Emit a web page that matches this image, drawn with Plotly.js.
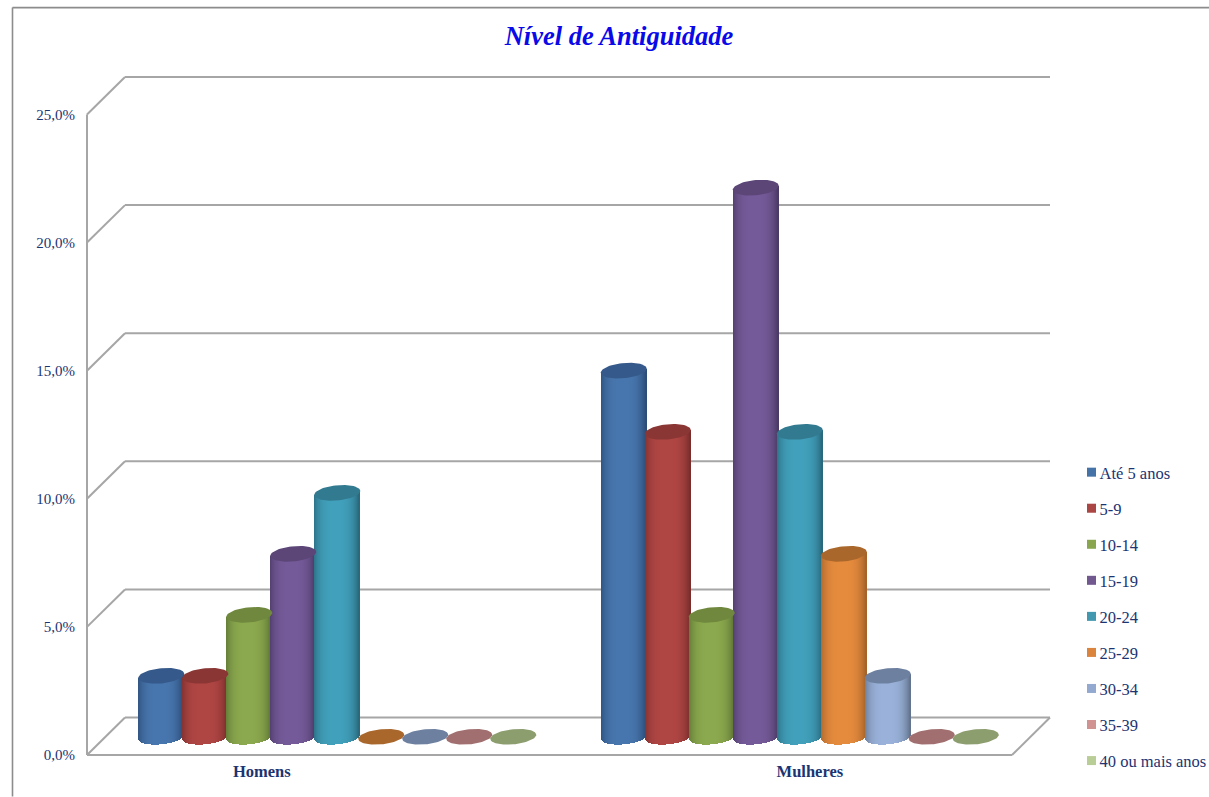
<!DOCTYPE html>
<html>
<head>
<meta charset="utf-8">
<title>Nível de Antiguidade</title>
<script src="https://cdn.plot.ly/plotly-3.0.1.min.js"></script>
<style>
  html, body { margin: 0; padding: 0; background: #ffffff; overflow: hidden; }
  #chart { width: 1209px; height: 797px; }
</style>
</head>
<body>
<div id="chart"></div>
<script>
// Share of staff per seniority band, split by gender (percent).
const groups = ['Homens', 'Mulheres'];
const bands = ['Até 5 anos', '5-9', '10-14', '15-19', '20-24', '25-29', '30-34', '35-39', '40 ou mais anos'];
const homens = [2.38, 2.38, 4.76, 7.14, 9.52, 0, 0, 0, 0];
const mulheres = [14.29, 11.90, 4.76, 21.43, 11.90, 7.14, 2.38, 0, 0];
const yTicks = [0, 5, 10, 15, 20, 25];
const yTickText = ['0,0%', '5,0%', '10,0%', '15,0%', '20,0%', '25,0%'];

// Cylinder shading per band: side edge, side middle, top cap.
const edgeColors = ['#2c4d78', '#7a2e2c', '#5d7433', '#4b3a66', '#29697d', '#a5632a', '#64758f', '#8f6161', '#7b8c5f'];
const midColors = ['#4776ae', '#b04644', '#8ba94e', '#755a99', '#41a0bb', '#e58b3d', '#9ab2da', '#d09a99', '#bad09a'];
const capColors = ['#35598a', '#8a3634', '#6f883e', '#5b4677', '#327a90', '#a9672c', '#6d80a0', '#a16f6f', '#8c9d6e'];
const legendColors = ['#4573a7', '#aa4643', '#89a54e', '#71588f', '#4198af', '#db843d', '#93a9cf', '#d19392', '#b9cd96'];
const ink = '#1b3472';
const gridColor = '#a6a6a6';

// Scale of the oblique projection: pixels per axis unit and depth of the box.
const PX_X = 462.5, PX_Y = 25.66, DEPTH_X_PX = 38, DEPTH_Y_PX = 37.5, PAD_PX = 2;
const dx = DEPTH_X_PX / PX_X, dy = DEPTH_Y_PX / PX_Y;
const SLOT_PX = 44, HALF_W_PX = 23, CAP_B_PX = 7.6, CAP_TILT_PX = 2;

// Plot frame in pixels; the padding keeps the box lines from being clipped.
const M = { l: 87 - PAD_PX, r: 1209 - 1050 - PAD_PX, t: 76.5 - PAD_PX, b: 797 - 755.5 - PAD_PX };
const plotW = 1209 - M.l - M.r, plotH = 797 - M.t - M.b;
const paperX = px => (px - M.l) / plotW;
const paperY = py => (797 - M.b - py) / plotH;

const hexRgb = h => [1, 3, 5].map(i => parseInt(h.substr(i, 2), 16));
function mix(a, b, t) {
  const A = hexRgb(a), B = hexRgb(b);
  return 'rgb(' + A.map((v, i) => Math.round(v + (B[i] - v) * t)).join(',') + ')';
}

// Centre of the cylinder footprint on the floor, half way into the box.
const centreX = (g, s) => g + 0.5 + dx / 2 + (s - 4) * SLOT_PX / PX_X;
const floorY = (DEPTH_Y_PX / 2 - 0.5) / PX_Y;

const traces = [];

// Each cylinder body is a run of one-pixel bars whose base follows the lower
// rim and whose colour follows the curved surface.
bands.forEach((band, s) => {
  const xs = [], bases = [], heights = [], colors = [];
  [homens, mulheres].forEach((vals, g) => {
    if (vals[s] <= 0) return;
    const cx = centreX(g, s);
    for (let p = -HALF_W_PX + 0.5; p < HALF_W_PX; p += 1) {
      const u = p / HALF_W_PX;
      const lift = CAP_TILT_PX * u;
      const drop = CAP_B_PX * Math.sqrt(1 - u * u);
      const base = floorY + (lift - drop) / PX_Y;
      const top = floorY + vals[s] + lift / PX_Y;
      xs.push(cx + p / PX_X);
      bases.push(base);
      heights.push(top - base);
      const shade = 1 - Math.pow(Math.abs(u + 0.06), 3.2);
      colors.push(mix(edgeColors[s], midColors[s], Math.max(0, shade)));
    }
  });
  traces.push({
    type: 'bar', x: xs, y: heights, base: bases, width: 1 / PX_X, opacity: 1,
    marker: { color: colors, opacity: 1, line: { width: 0 } },
    legendgroup: band, showlegend: false, hoverinfo: 'skip'
  });
});

// Elliptical top caps, flat on the floor for empty bands.
bands.forEach((band, s) => {
  [homens, mulheres].forEach((vals, g) => {
    const cx = centreX(g, s);
    const xs = [], ys = [];
    for (let a = 0; a <= 72; a++) {
      const t = a / 72 * 2 * Math.PI;
      const c = Math.cos(t), n = Math.sin(t);
      xs.push(cx + HALF_W_PX * c / PX_X);
      ys.push(floorY + vals[s] + (CAP_TILT_PX * c + CAP_B_PX * n) / PX_Y);
    }
    traces.push({
      type: 'scatter', mode: 'lines', x: xs, y: ys, fill: 'toself',
      fillcolor: capColors[s], line: { width: 0, color: capColors[s] },
      legendgroup: band, showlegend: false, hoverinfo: 'skip'
    });
  });
});

// Legend keys.
bands.forEach((band, s) => {
  traces.push({
    type: 'scatter', mode: 'markers', x: [null], y: [null], name: band,
    marker: { symbol: 'square', size: 9, color: legendColors[s] },
    legendgroup: band, hoverinfo: 'skip'
  });
});

// Box outline: back wall gridlines with their diagonals, floor and front axis.
const gridLine = (x0, y0, x1, y1) => ({
  type: 'line', xref: 'x', yref: 'y', x0, y0, x1, y1, layer: 'below',
  line: { color: gridColor, width: 2 }
});
const shapes = [];
yTicks.forEach(v => {
  shapes.push(gridLine(0, v, dx, v + dy));
  shapes.push(gridLine(dx, v + dy, 2 + dx, v + dy));
});
shapes.push(gridLine(0, 0, 0, yTicks[yTicks.length - 1]));
shapes.push(gridLine(0, 0, 2, 0));
shapes.push(gridLine(2, 0, 2 + dx, dy));

// Outer chart frame, open on the right and at the bottom.
const frame = { color: '#8c8c8c', width: 1.6 };
shapes.push({ type: 'line', xref: 'paper', yref: 'paper', x0: paperX(12.5), y0: paperY(7), x1: paperX(1209), y1: paperY(7), line: frame });
shapes.push({ type: 'line', xref: 'paper', yref: 'paper', x0: paperX(12.5), y0: paperY(7), x1: paperX(12.5), y1: paperY(797), line: frame });

const layout = {
  width: 1209, height: 797,
  margin: { l: M.l, r: M.r, t: M.t, b: M.b, pad: 0, autoexpand: false },
  paper_bgcolor: '#ffffff', plot_bgcolor: 'rgba(0,0,0,0)',
  barmode: 'overlay', bargap: 0, bargroupgap: 0, hovermode: false,
  title: {
    text: '<b><i>Nível de Antiguidade</i></b>',
    font: { family: 'Liberation Serif', size: 26.5, color: '#0a0ae8' },
    x: 619 / 1209, xanchor: 'center', xref: 'container',
    y: 1 - 36 / 797, yanchor: 'middle', yref: 'container'
  },
  xaxis: {
    range: [-PAD_PX / PX_X, 2 + dx + PAD_PX / PX_X], fixedrange: true,
    showgrid: false, zeroline: false, showline: false,
    tickmode: 'array', tickvals: [0.378, 1.563], ticktext: groups.map(g => '<b>' + g + '</b>'),
    ticks: '', ticklabelstandoff: 2,
    tickfont: { family: 'Liberation Serif', size: 16.5, color: ink }
  },
  yaxis: {
    range: [-PAD_PX / PX_Y, (plotH - PAD_PX) / PX_Y], fixedrange: true,
    showgrid: false, zeroline: false, showline: false,
    tickmode: 'array', tickvals: yTicks, ticktext: yTickText,
    ticks: '', ticklabelstandoff: 9,
    tickfont: { family: 'Liberation Serif', size: 15, color: ink }
  },
  showlegend: true,
  legend: {
    x: paperX(1071.5), xanchor: 'left',
    y: paperY(455), yanchor: 'top',
    bgcolor: 'rgba(0,0,0,0)', borderwidth: 0,
    traceorder: 'grouped', tracegroupgap: 11.6, itemclick: false, itemdoubleclick: false,
    font: { family: 'Liberation Serif', size: 16.5, color: ink }
  },
  shapes
};

Plotly.newPlot('chart', traces, layout, { staticPlot: true, displayModeBar: false }).then(gd => {
  // Tighten the gap between each legend key and its label.
  gd.querySelectorAll('.legend .legendtext').forEach(t => t.setAttribute('x', 28));
  gd.querySelectorAll('.legend .scrollbox').forEach(b => b.removeAttribute('clip-path'));
});
</script>
</body>
</html>
